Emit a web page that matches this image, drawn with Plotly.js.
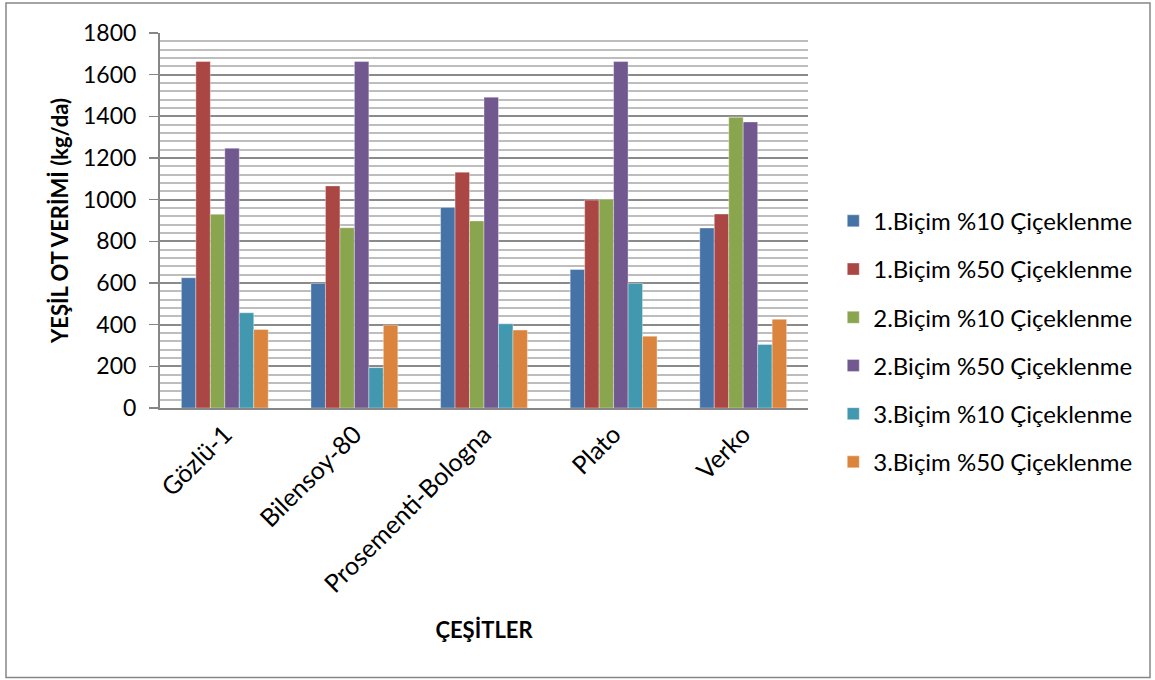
<!DOCTYPE html>
<html>
<head>
<meta charset="utf-8">
<script src="https://cdn.plot.ly/plotly-3.0.1.min.js"></script>
<style>html,body{margin:0;padding:0;background:#fff;}#chart{width:1155px;height:680px;}</style>
</head>
<body>
<div id="chart"></div>
<script>
const categories = ["Gözlü-1", "Bilensoy-80", "Prosementi-Bologna", "Plato", "Verko"];
const seriesNames = [
  "1.Biçim %10 Çiçeklenme",
  "1.Biçim %50 Çiçeklenme",
  "2.Biçim %10 Çiçeklenme",
  "2.Biçim %50 Çiçeklenme",
  "3.Biçim %10 Çiçeklenme",
  "3.Biçim %50 Çiçeklenme"
];
const b1p10 = [625, 598, 963, 665, 864];
const b1p50 = [1663, 1066, 1132, 998, 931];
const b2p10 = [930, 865, 898, 1002, 1396];
const b2p50 = [1247, 1663, 1492, 1663, 1373];
const b3p10 = [457, 194, 404, 598, 305];
const b3p50 = [377, 398, 374, 345, 426];
const seriesValues = [b1p10, b1p50, b2p10, b2p50, b3p10, b3p50];
const colors = ["#4572A7", "#AA4643", "#89A54E", "#71588F", "#4198AF", "#DB843D"];
const yTicks = [0, 200, 400, 600, 800, 1000, 1200, 1400, 1600, 1800];

const FONT = "Lato, 'Open Sans', sans-serif";

const traces = seriesNames.map((name, i) => ({
  type: "bar",
  name: name,
  x: categories,
  y: seriesValues[i],
  legendgroup: "g" + i,
  marker: {color: colors[i], line: {color: "rgba(255,255,255,0.6)", width: 0.6}},
  hoverinfo: "x+y+name"
}));

const layout = {
  width: 1155,
  height: 680,
  margin: {l: 160, r: 347, t: 33, b: 272, autoexpand: false},
  paper_bgcolor: "#ffffff",
  plot_bgcolor: "#ffffff",
  font: {family: FONT, size: 23, color: "#000000"},
  barmode: "group",
  bargap: 0.33,
  bargroupgap: 0,
  showlegend: true,
  legend: {
    x: 1.039, xanchor: "left",
    y: 0.558, yanchor: "top",
    traceorder: "grouped",
    tracegroupgap: 14,
    font: {family: FONT, size: 24, color: "#000000"},
    bgcolor: "rgba(0,0,0,0)",
    itemwidth: 30
  },
  xaxis: {
    type: "category",
    automargin: false,
    showline: true,
    linecolor: "#868686",
    linewidth: 2,
    ticks: "",
    tickangle: -45,
    tickfont: {family: FONT, size: 25, color: "#000000"},
    showgrid: false,
    zeroline: false,
    title: {text: "<b>ÇEŞİTLER</b>", font: {family: FONT, size: 22, color: "#000000"}, standoff: 26}
  },
  yaxis: {
    automargin: false,
    range: [0, 1800],
    tickvals: yTicks,
    ticktext: yTicks.map(String),
    showline: true,
    linecolor: "#868686",
    linewidth: 2,
    ticks: "outside",
    ticklen: 9,
    tickwidth: 1.5,
    tickcolor: "#868686",
    ticklabelstandoff: 8,
    tickfont: {family: FONT, size: 23, color: "#000000"},
    showgrid: true,
    gridcolor: "#8a8a8a",
    gridwidth: 2,
    minor: {dtick: 40, showgrid: true, gridcolor: "#bdbdbd", gridwidth: 2, ticks: ""},
    zeroline: false,
    title: {text: "<b>YEŞİL OT VERİMİ (kg/da)</b>", font: {family: FONT, size: 22, color: "#000000"}, standoff: 8}
  },
  shapes: [{
    type: "rect", xref: "paper", yref: "paper",
    x0: (6 - 160) / 648, x1: (1150 - 160) / 648,
    y0: (408 - 677.5) / 375, y1: (408 - 3) / 375,
    line: {color: "#868686", width: 1.5},
    fillcolor: "rgba(0,0,0,0)",
    layer: "below"
  }]
};

Plotly.newPlot("chart", traces, layout, {displayModeBar: false, staticPlot: true});
</script>
</body>
</html>
